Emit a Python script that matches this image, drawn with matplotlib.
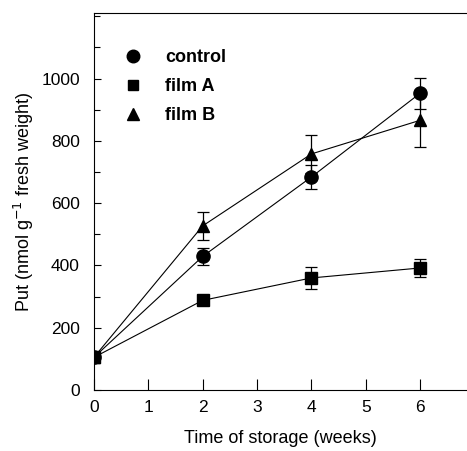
import matplotlib
matplotlib.use('Agg')
import matplotlib.pyplot as plt
from matplotlib.lines import Line2D
from matplotlib.ticker import MultipleLocator

plt.rcParams['font.family'] = ['Liberation Sans', 'DejaVu Sans']

weeks = [0, 2, 4, 6]
control = [105, 429, 684, 953]
control_err = [0, 28, 39, 50]
film_a = [105, 288, 360, 392]
film_a_err = [0, 15, 34, 28]
film_b = [105, 527, 758, 866]
film_b_err = [0, 45, 62, 86]

series = [
    ('control', control, control_err, 'o', 9.5),
    ('film A', film_a, film_a_err, 's', 8),
    ('film B', film_b, film_b_err, '^', 9),
]

fig = plt.figure(figsize=(4.67, 4.51), dpi=100)
ax = fig.add_axes([0.201, 0.135, 0.799, 0.836])

handles = []
for name, vals, errs, mk, ms in series:
    ax.errorbar(weeks, vals, yerr=errs, color='black', marker=mk, markersize=ms,
                linewidth=0.8, elinewidth=0.9, capsize=4, capthick=0.9, zorder=3)
    handles.append(Line2D([], [], color='black', marker=mk, markersize=ms * 0.95,
                          linestyle='none', label=name))

ax.set_xlim(0, 6.86)
ax.set_ylim(0, 1210)
ax.set_xticks(range(0, 7))
ax.yaxis.set_minor_locator(MultipleLocator(100))
ax.set_yticks(range(0, 1001, 200))
ax.spines['right'].set_visible(False)
ax.tick_params(axis='x', direction='in', length=8, width=0.8, labelsize=12.5, pad=7)
ax.tick_params(axis='y', which='both', direction='in', length=5, width=0.8,
               labelsize=12.5, pad=10)
ax.tick_params(axis='y', which='minor', length=4)

ax.set_xlabel('Time of storage (weeks)', fontsize=13, labelpad=11)
ax.set_ylabel('Put (nmol g$^{-1}$ fresh weight)', fontsize=13, labelpad=4)

leg = ax.legend(handles=handles, loc='upper left', bbox_to_anchor=(0.056, 0.905),
                frameon=False, prop={'weight': 'bold', 'size': 13},
                handletextpad=0.8, labelspacing=0.68, borderaxespad=0,
                borderpad=0)

fig.savefig('out.png', dpi=100)
